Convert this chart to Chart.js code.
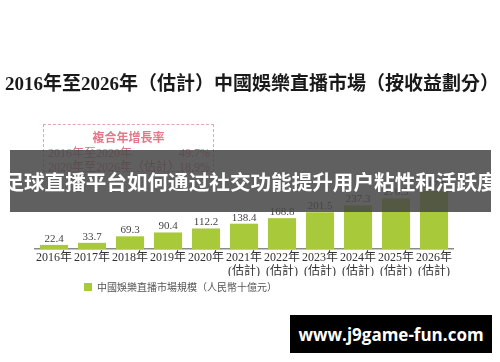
<!DOCTYPE html>
<html><head><meta charset="utf-8">
<script src="https://cdn.jsdelivr.net/npm/chart.js@4.4.0/dist/chart.umd.min.js"></script>
<style>
html,body{margin:0;padding:0;background:#fff;}
#wrap{position:relative;width:500px;height:362px;overflow:hidden;background:#fff;}
#c{position:absolute;left:0;top:0;}
.title{position:absolute;left:5px;top:72px;font:bold 19px "Liberation Serif","Noto Sans CJK TC",serif;color:#1a1a1a;white-space:nowrap;line-height:24px;}
.cagr{position:absolute;left:43px;top:124px;width:171px;height:48px;border:1px dashed #eba3ad;box-sizing:border-box;}
.cagr .h{position:absolute;left:0;right:0;top:5px;text-align:center;font:bold 12px "Noto Sans CJK TC";color:#e57888;line-height:14px;}
.cagr .r{position:absolute;left:4px;right:3px;font:12px "Liberation Serif","Noto Sans CJK TC";color:#d9788a;line-height:14px;display:flex;justify-content:space-between;}
.banner{position:absolute;left:10px;top:150px;width:481px;height:62px;background:rgba(70,70,70,0.86);color:#fff;font:bold 20.6px "Noto Sans CJK SC";display:flex;align-items:center;justify-content:center;white-space:nowrap;z-index:3;}
.wm{position:absolute;left:290px;top:315px;width:202px;height:38px;background:#000;color:#fff;font:bold 17px "Open Sans";display:flex;align-items:center;justify-content:center;z-index:3;}
</style></head>
<body>
<div id="wrap">
<canvas id="c" width="500" height="362"></canvas>
<div class="title">2016年至2026年（估計）中國娛樂直播市場（按收益劃分）</div>
<div class="cagr">
  <div class="h">複合年增長率</div>
  <div class="r" style="top:21px"><span>2016年至2020年</span><span>49.7%</span></div>
  <div class="r" style="top:35px"><span>2020年至2026年（估計）</span><span>18.9%</span></div>
</div>
<div class="banner">足球直播平台如何通过社交功能提升用户粘性和活跃度</div>
<div class="wm">www.j9game-fun.com</div>
</div>
<script>
const years = ['2016年','2017年','2018年','2019年','2020年','2021年','2022年','2023年','2024年','2025年','2026年'];
const isEstimate = [false,false,false,false,false,true,true,true,true,true,true];
const marketSize = [22.4, 33.7, 69.3, 90.4, 112.2, 138.4, 168.8, 201.5, 237.3, 276.5, 317.0];
const seriesName = '中國娛樂直播市場規模（人民幣十億元）';
const estimateTag = '(估計)';

const labels = years.map((y, i) => isEstimate[i] ? [y, estimateTag] : [y]);

const valueLabels = {
  id: 'valueLabels',
  afterDatasetsDraw(chart) {
    const ctx = chart.ctx;
    const meta = chart.getDatasetMeta(0);
    ctx.save();
    ctx.font = '11px "Liberation Serif", serif';
    ctx.fillStyle = '#444';
    ctx.textAlign = 'center';
    ctx.textBaseline = 'middle';
    meta.data.forEach((bar, i) => {
      ctx.fillText(marketSize[i].toFixed(1), bar.x, bar.y - 6);
    });
    ctx.restore();
  }
};
const legendShift = {
  id: 'legendShift',
  afterLayout(chart) {
    const lg = chart.legend;
    if (lg) { const w = lg.right - lg.left; lg.left = 78; lg.right = 78 + w; }
  }
};

new Chart(document.getElementById('c'), {
  type: 'bar',
  data: {
    labels: labels,
    datasets: [{
      label: seriesName,
      data: marketSize,
      backgroundColor: '#a8c93a',
      borderWidth: 0,
      barPercentage: 0.74,
      categoryPercentage: 1.0
    }]
  },
  options: {
    responsive: false,
    devicePixelRatio: 1,
    animation: false,
    layout: { padding: { top: 185, left: 35, right: 47, bottom: 60 } },
    plugins: {
      tooltip: { enabled: false },
      legend: {
        position: 'bottom',
        align: 'start',
        labels: {
          boxWidth: 8, boxHeight: 8, padding: 6,
          color: '#555',
          font: { family: '"Noto Sans CJK TC"', size: 10 }
        }
      }
    },
    scales: {
      x: {
        grid: { display: false, drawTicks: false },
        border: { display: true, color: '#8a8a8a', width: 1.5 },
        ticks: {
          autoSkip: false, maxRotation: 0, padding: 2,
          color: '#333',
          font: { family: '"Liberation Serif", "Noto Sans CJK TC", serif', size: 12, lineHeight: 1.17 }
        },
        afterFit(s) { s.height = 27; }
      },
      y: { display: false, min: 0, max: 350 }
    }
  },
  plugins: [valueLabels, legendShift]
});
</script>
</body></html>
